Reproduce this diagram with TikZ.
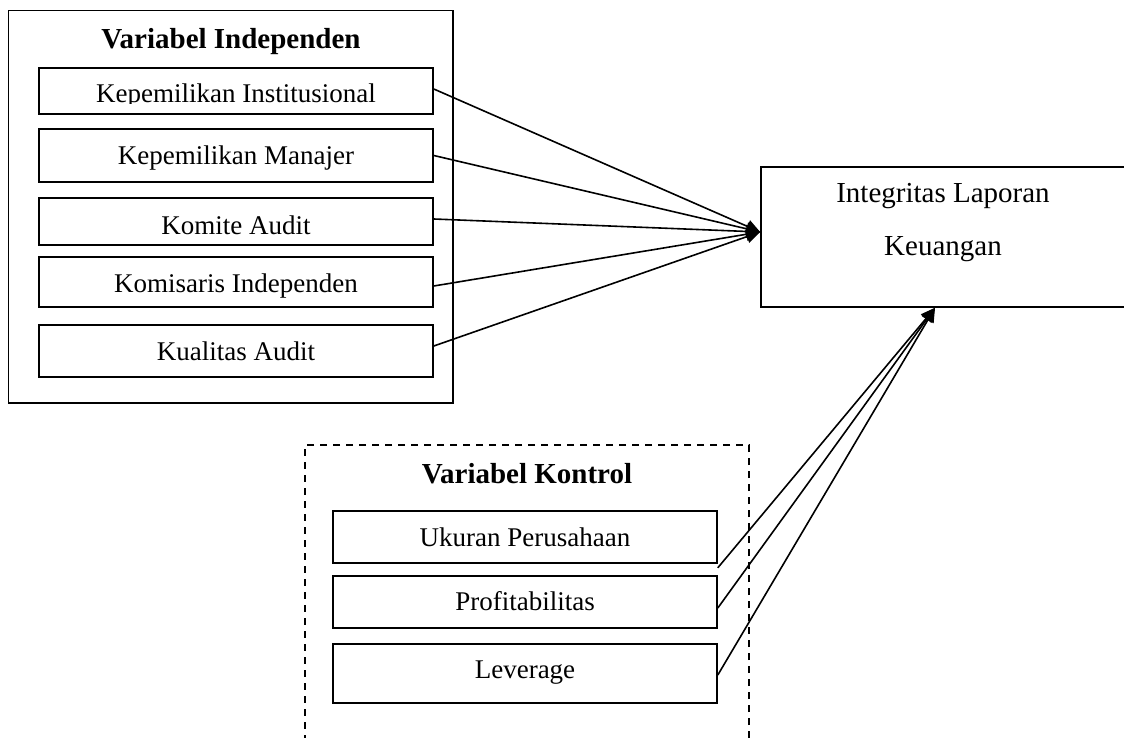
\documentclass[tikz,border=0pt]{standalone}
\usepackage{fontspec}
\setmainfont{Liberation Serif}
\usetikzlibrary{arrows.meta}
\tikzset{
  boxa/.style={draw, line width=1.6pt, inner sep=0pt, rectangle},
  dbox/.style={draw, line width=1.6pt, inner sep=0pt, rectangle, dash pattern=on 7pt off 6pt},
  lbl/.style={inner sep=0pt, anchor=base, font=\fontsize{27}{32}\selectfont},
  ttl/.style={inner sep=0pt, anchor=base, font=\fontsize{29}{34}\selectfont\bfseries},
  big/.style={inner sep=0pt, anchor=base, font=\fontsize{29}{34}\selectfont},
  conn/.style={line width=1.6pt, -{Triangle[length=14pt,width=13pt]}, shorten <=0pt}
}
\begin{document}
\begin{tikzpicture}[x=1pt,y=-1pt]
\useasboundingbox (0,0) rectangle (1124,738);
% independent variable group
\node[boxa, minimum width=444.5pt, minimum height=392.3pt] (ind) at (230.75,206.85) {};
\node[ttl] (indt) at (231,49) {Variabel Independen};
\node[boxa, minimum width=394pt, minimum height=46pt] (k1) at (236,91) {};
\node[boxa, minimum width=394pt, minimum height=53pt] (k2) at (236,155.5) {};
\node[boxa, minimum width=394pt, minimum height=47pt] (k3) at (236,221.5) {};
\node[boxa, minimum width=394pt, minimum height=50pt] (k4) at (236,282) {};
\node[boxa, minimum width=394pt, minimum height=52pt] (k5) at (236,351) {};
\begin{scope}
\clip (40,69) rectangle (432,104);
\node[lbl] (k1t) at (236,103) {Kepemilikan Institusional};
\end{scope}
\node[lbl] (k2t) at (236,165) {Kepemilikan Manajer};
\node[lbl] (k3t) at (236,234) {Komite Audit};
\node[lbl] (k4t) at (236,292) {Komisaris Independen};
\node[lbl] (k5t) at (236,360) {Kualitas Audit};
% dependent variable
\node[boxa, minimum width=374pt, minimum height=140pt] (ilk) at (948,237) {};
\node[big] (ilk1) at (943,203) {Integritas Laporan};
\node[big] (ilk2) at (943,255) {Keuangan};
% control variable group
\node[dbox, minimum width=444pt, minimum height=330pt] (ctl) at (527,610) {};
\node[ttl] (ctlt) at (527,483) {Variabel Kontrol};
\node[boxa, minimum width=384pt, minimum height=52pt] (u) at (525,537) {};
\node[boxa, minimum width=384pt, minimum height=52pt] (p) at (525,602) {};
\node[boxa, minimum width=384pt, minimum height=59pt] (l) at (525,673.5) {};
\node[lbl] (ut) at (525,546) {Ukuran Perusahaan};
\node[lbl] (pt) at (525,610) {Profitabilitas};
\node[lbl] (lt) at (525,678) {Leverage};
% connectors
\draw[conn] ([yshift=2pt]k1.east) -- ([yshift=5pt]ilk.west);
\draw[conn] (k2.east) -- ([yshift=5pt]ilk.west);
\draw[conn] ([yshift=2.5pt]k3.east) -- ([yshift=5pt]ilk.west);
\draw[conn] ([yshift=-4pt]k4.east) -- ([yshift=5pt]ilk.west);
\draw[conn] ([yshift=5pt]k5.east) -- ([yshift=5pt]ilk.west);
\draw[conn] ([yshift=-4pt]u.south east) -- ([xshift=-13pt]ilk.south);
\draw[conn] ([yshift=-6pt]p.east) -- ([xshift=-13pt]ilk.south);
\draw[conn] ([yshift=-1.5pt]l.east) -- ([xshift=-13pt]ilk.south);
\end{tikzpicture}
\end{document}
